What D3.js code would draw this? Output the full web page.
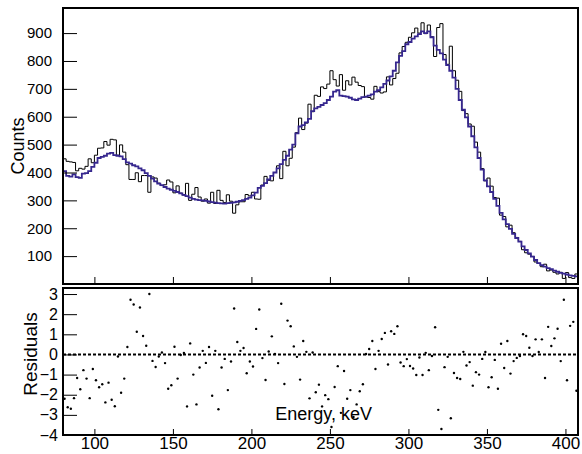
<!DOCTYPE html>
<html><head><meta charset="utf-8">
<script src="https://cdn.jsdelivr.net/npm/d3@7"></script>
<style>
body{margin:0;background:#fff}
text{font-family:"Liberation Sans",Arial,Helvetica,sans-serif;fill:#000}
</style>
</head><body>
<svg id="c" width="582" height="454"></svg>
<script>
// Histogram binning (energy, keV)
const binStart = 80, binWidth = 2, binCount = 164;

const dataCounts = [449,440,438,436,406,415,412,422,449,435,
 462,487,488,511,498,519,517,462,499,473,
 428,375,375,399,367,389,389,329,384,380,
 362,353,356,373,366,327,352,326,319,361,
 300,322,346,312,297,305,290,329,289,336,
 300,292,320,297,254,284,295,295,321,316,
 329,305,304,355,386,372,370,400,424,378,
 476,424,451,491,543,595,554,577,645,618,
 677,673,707,701,717,765,733,710,751,695,
 729,714,742,724,712,708,671,669,663,709,
 690,685,689,743,714,737,756,829,852,867,
 885,901,918,900,937,898,929,887,816,920,
 934,823,788,853,765,731,691,622,611,574,
 566,509,473,414,370,380,351,310,308,247,
 242,205,211,184,167,153,123,112,107,99,
 79,74,62,71,47,50,42,36,42,20,
 41,23,20,36];

const fitCounts = [405,388,385,393,383,381,396,398,405,420,
 435,452,456,460,468,470,462,460,458,448,
 436,432,426,422,415,408,398,388,378,368,
 360,355,348,342,338,334,330,325,320,315,
 310,305,303,301,300,298,296,294,292,290,
 289,288,290,291,293,295,298,301,305,310,
 318,328,345,352,362,375,388,400,415,430,
 445,460,482,500,540,565,570,580,592,620,
 630,635,642,649,660,672,690,695,676,674,
 672,668,662,660,665,670,672,676,680,690,
 695,705,718,730,745,765,795,818,835,860,
 868,880,888,896,906,900,906,885,855,840,
 827,805,785,765,740,700,660,625,598,565,
 530,490,452,410,372,350,330,305,280,255,
 232,215,198,180,165,152,135,122,110,98,
 86,75,68,62,57,53,48,44,40,37,
 34,31,29,27];

const residuals = [-2.2,-2.62,-2.7,-2.17,-1.17,-1.73,-0.78,-1.2,-2.17,-0.72,
 -1.28,-1.63,-1.48,-2.38,-1.4,-2.25,-2.57,-0.1,-1.9,-1.2,
 0.37,2.72,2.48,1.13,2.33,0.92,0.43,3.0,-0.32,-0.62,
 -0.1,0.1,-0.43,-1.7,-1.53,0.38,-1.2,-0.03,0.07,-2.58,
 0.55,-1.0,-2.48,-0.65,0.18,-0.42,0.37,-2.05,0.18,-2.72,
 -0.65,-0.22,-1.77,-0.35,2.28,0.62,0.18,0.32,-0.93,-0.35,
 -0.6,1.27,2.23,-0.18,-1.27,0.15,0.9,0.02,-0.43,2.52,
 -1.47,1.68,1.4,0.4,-0.12,-1.25,0.67,0.13,-2.18,0.1,
 -1.88,-1.5,-2.58,-2.02,-2.22,-3.6,-1.62,-0.58,-2.9,-0.82,
 -2.2,-1.77,-3.1,-2.48,-1.83,-1.48,0.02,0.27,0.67,-0.72,
 0.18,0.77,1.07,-0.5,1.15,1.02,1.4,-0.4,-0.58,-0.23,
 -0.57,-0.7,-1.02,-0.15,-1.02,0.08,-0.78,-0.08,1.35,-2.75,
 -3.7,-0.63,-0.12,-3.17,-0.92,-1.17,-1.22,0.13,-0.55,-0.38,
 -1.55,-0.88,-1.0,-0.22,0.12,-1.63,-1.13,-0.27,-1.7,0.53,
 -0.67,0.67,-0.95,-0.33,-0.17,-0.08,1.0,0.92,0.33,-0.08,
 0.75,0.12,0.75,-1.17,1.37,0.42,0.8,1.28,-0.33,2.72,
 -1.28,1.42,1.62,-1.8];

const countTicks = [100,200,300,400,500,600,700,800,900];
const residualTicks = [-4,-3,-2,-1,0,1,2,3];
const energyTicks = [100,150,200,250,300,350,400];

const countMinor = d3.range(0, 990, 20);
const residualMinor = d3.range(-4, 3.31, 0.2);
const energyMinor = d3.range(80, 409, 10);

const svg = d3.select("#c");
const L = 63, R = 578, T1 = 8, B1 = 284, T2 = 288, B2 = 435;

const x = d3.scaleLinear().domain([80, 408]).range([L, R]);
const y1 = d3.scaleLinear().domain([0, 990]).range([B1, T1]);
const y2 = d3.scaleLinear().domain([-4, 3.3]).range([B2, T2]);

const edges = d3.range(binCount + 1).map(i => binStart + i * binWidth);
const centers = d3.range(binCount).map(i => binStart + (i + 0.5) * binWidth);

function stepPts(vals) {
  const pts = vals.map((v, i) => [edges[i], v]);
  pts.push([edges[binCount], vals[binCount - 1]]);
  return pts;
}
const stepLine = d3.line().x(d => x(d[0])).y(d => y1(d[1])).curve(d3.curveStepAfter);

// top panel
svg.append("path").attr("d", stepLine(stepPts(dataCounts)))
  .attr("fill", "none").attr("stroke", "#000").attr("stroke-width", 1);
svg.append("path").attr("d", stepLine(stepPts(fitCounts)))
  .attr("fill", "none").attr("stroke", "#36278e").attr("stroke-width", 1.8);

// top panel axes
const gy1 = svg.append("g").attr("transform", `translate(${L},0)`);
gy1.call(d3.axisLeft(y1).tickValues(countMinor).tickSize(-7).tickFormat(""));
gy1.call(d3.axisLeft(y1).tickValues(countTicks).tickSize(-14).tickPadding(11).tickFormat(d3.format("d")));
const gx1 = svg.append("g").attr("transform", `translate(0,${B1})`);
gx1.call(d3.axisBottom(x).tickValues(energyMinor).tickSize(-4).tickFormat(""));
gx1.call(d3.axisBottom(x).tickValues(energyTicks).tickSize(-7).tickFormat(""));

// bottom panel
svg.append("line").attr("x1", L).attr("x2", R).attr("y1", y2(0)).attr("y2", y2(0))
  .attr("stroke", "#000").attr("stroke-width", 2).attr("stroke-dasharray", "3,2");
svg.append("g").selectAll("circle").data(residuals).join("circle")
  .attr("cx", (d, i) => x(centers[i])).attr("cy", d => y2(d)).attr("r", 1.2).attr("fill", "#000");

const gy2 = svg.append("g").attr("transform", `translate(${L},0)`);
gy2.call(d3.axisLeft(y2).tickValues(residualMinor).tickSize(-7).tickFormat(""));
gy2.call(d3.axisLeft(y2).tickValues(residualTicks).tickSize(-14).tickPadding(5).tickFormat(d3.format("d")));
const gx2 = svg.append("g").attr("transform", `translate(0,${B2})`);
gx2.call(d3.axisBottom(x).tickValues(energyMinor).tickSize(-3).tickFormat(""));
gx2.call(d3.axisBottom(x).tickValues(energyTicks).tickSize(-6).tickFormat(d3.format("d")));

[gy1, gx1, gy2, gx2].forEach(g => {
  g.selectAll(".domain").remove();
  g.selectAll(".tick line").attr("stroke", "#000").attr("stroke-width", 1);
});
gy1.selectAll("text").style("font-size", "15px").attr("font-family", null);
gy2.selectAll("text").style("font-size", "16px").attr("font-family", null);
gx2.selectAll("text").style("font-size", "17px").attr("font-family", null).attr("y", 14).attr("dy", 0);

// frames
svg.append("rect").attr("x", L).attr("y", T1).attr("width", R - L).attr("height", B1 - T1)
  .attr("fill", "none").attr("stroke", "#000").attr("stroke-width", 2);
svg.append("rect").attr("x", L).attr("y", T2).attr("width", R - L).attr("height", B2 - T2)
  .attr("fill", "none").attr("stroke", "#000").attr("stroke-width", 2);

// titles
svg.append("text").attr("transform", "translate(24,146) rotate(-90)")
  .attr("text-anchor", "middle").style("font-size", "18px").text("Counts");
svg.append("text").attr("transform", "translate(37,354) rotate(-90)")
  .attr("text-anchor", "middle").style("font-size", "19px").text("Residuals");
svg.append("text").attr("x", 372).attr("y", 420).attr("text-anchor", "end")
  .style("font-size", "18px").text("Energy, keV");
</script>
</body></html>
